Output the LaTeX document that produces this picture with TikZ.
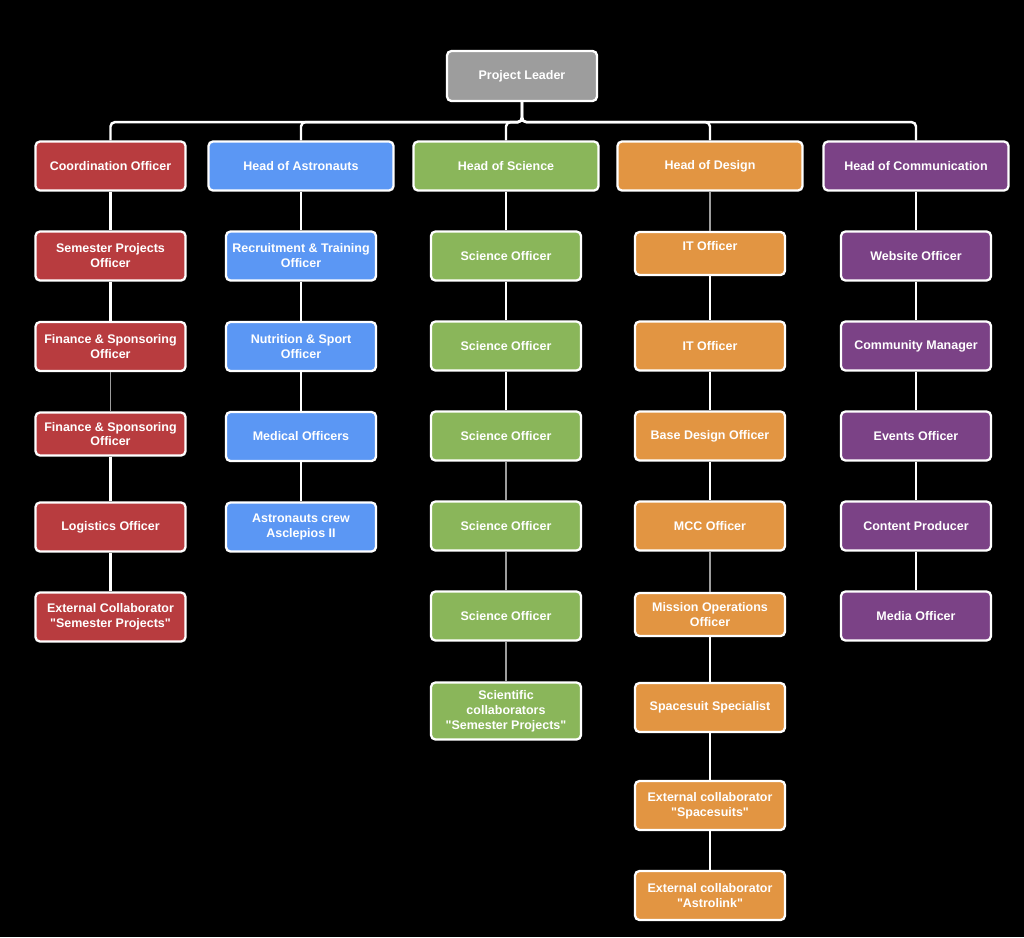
\documentclass[tikz,border=0pt]{standalone}
\usepackage{fontspec}
\setmainfont{Liberation Sans}

\definecolor{leadgray}{HTML}{9D9D9D}
\definecolor{coordred}{HTML}{B83C3F}
\definecolor{astroblue}{HTML}{5B97F4}
\definecolor{sciencegreen}{HTML}{8AB65A}
\definecolor{designorange}{HTML}{E29542}
\definecolor{commpurple}{HTML}{7B4286}

\newcommand{\qt}[1]{\textquotedbl#1\textquotedbl}

\tikzset{
  unit/.style={draw=white, line width=1.3pt, rounded corners=2.5pt,
    text=white, font=\bfseries\fontsize{7.1}{8.5}\selectfont, align=center,
    minimum width=3.0cm, minimum height=0.98cm, inner sep=1pt},
  headunit/.style={unit, minimum width=3.7cm},
  link/.style={draw=white, line width=1.4pt, rounded corners=2.5pt},
  faintlink/.style={draw=leadgray, line width=0.7pt}
}

\begin{document}
\begin{tikzpicture}[x=0.02cm, y=-0.02cm]
    % black page, same size as the reference
    \fill[black] (0,0) rectangle (1024,937);
    \useasboundingbox (0,0) rectangle (1024,937);

    % Top of the tree
    \node[unit, fill=leadgray, minimum height=1cm] (leader) at (522,76) {Project Leader};

    % Heads of the five teams
    \node[unit, fill=coordred] (coord) at (110.5,166) {Coordination Officer};
    \node[headunit, fill=astroblue] (astro) at (301,166) {Head of Astronauts};
    \node[headunit, fill=sciencegreen] (science) at (506,166) {Head of Science};
    \node[headunit, fill=designorange] (design) at (710,166) {Head of Design};
    \node[headunit, fill=commpurple] (comm) at (916,166) {Head of Communication};

    \foreach \head in {coord, astro, science, design, comm}
        \draw[link] (leader.south) -- ++(0,20) -| (\head.north);

    % Coordination column
    \node[unit, fill=coordred] (semester) at (110.5,256) {Semester Projects\\Officer};
    \node[unit, fill=coordred] (financeA) at (110.5,346.5) {Finance \& Sponsoring\\Officer};
    \node[unit, fill=coordred, minimum height=0.86cm] (financeB) at (110.5,434) {Finance \& Sponsoring\\Officer};
    \node[unit, fill=coordred] (logistics) at (110.5,527) {Logistics Officer};
    \node[unit, fill=coordred] (extsemester) at (110.5,617) {External Collaborator\\\qt{Semester Projects}};

    % Astronauts column
    \node[unit, fill=astroblue] (recruit) at (301,256) {Recruitment \& Training\\Officer};
    \node[unit, fill=astroblue] (nutrition) at (301,346.5) {Nutrition \& Sport\\Officer};
    \node[unit, fill=astroblue] (medical) at (301,436.5) {Medical Officers};
    \node[unit, fill=astroblue] (crew) at (301,527) {Astronauts crew\\Asclepios II};

    % Science column
    \node[unit, fill=sciencegreen] (sciA) at (506,256) {Science Officer};
    \node[unit, fill=sciencegreen] (sciB) at (506,346) {Science Officer};
    \node[unit, fill=sciencegreen] (sciC) at (506,436) {Science Officer};
    \node[unit, fill=sciencegreen] (sciD) at (506,526) {Science Officer};
    \node[unit, fill=sciencegreen] (sciE) at (506,616) {Science Officer};
    \node[unit, fill=sciencegreen, minimum height=1.14cm] (scicollab) at (506,711) {Scientific\\collaborators\\\qt{Semester Projects}};

    % Design column
    \node[unit, fill=designorange, minimum height=0.86cm] (itA) at (710,253.5) {IT Officer\\\mbox{}};
    \node[unit, fill=designorange] (itB) at (710,346) {IT Officer};
    \node[unit, fill=designorange] (base) at (710,436) {Base Design Officer};
    \node[unit, fill=designorange] (mcc) at (710,526) {MCC Officer};
    \node[unit, fill=designorange, minimum height=0.86cm] (missionops) at (710,614.5) {Mission Operations\\Officer};
    \node[unit, fill=designorange] (spacesuit) at (710,707.5) {Spacesuit Specialist};
    \node[unit, fill=designorange] (extsuits) at (710,805.5) {External collaborator\\\qt{Spacesuits}};
    \node[unit, fill=designorange] (extastro) at (710,895.5) {External collaborator\\\qt{Astrolink}};

    % Communication column
    \node[unit, fill=commpurple] (website) at (916,256) {Website Officer};
    \node[unit, fill=commpurple] (community) at (916,346) {Community Manager};
    \node[unit, fill=commpurple] (events) at (916,436) {Events Officer};
    \node[unit, fill=commpurple] (content) at (916,526) {Content Producer};
    \node[unit, fill=commpurple] (media) at (916,616) {Media Officer};

    % white links down each column
    \foreach \upper/\lower in {coord/semester, semester/financeA, financeB/logistics, logistics/extsemester,
        astro/recruit, recruit/nutrition, nutrition/medical, medical/crew,
        science/sciA, sciA/sciB, sciB/sciC,
        itA/itB, itB/base, base/mcc, missionops/spacesuit, spacesuit/extsuits, extsuits/extastro,
        comm/website, website/community, community/events, events/content, content/media}
        \draw[link] (\upper.south) -- (\lower.north);

    % thin grey links
    \foreach \upper/\lower in {financeA/financeB, sciC/sciD, sciD/sciE, sciE/scicollab,
        design/itA, mcc/missionops}
        \draw[faintlink] (\upper.south) -- (\lower.north);
\end{tikzpicture}
\end{document}
